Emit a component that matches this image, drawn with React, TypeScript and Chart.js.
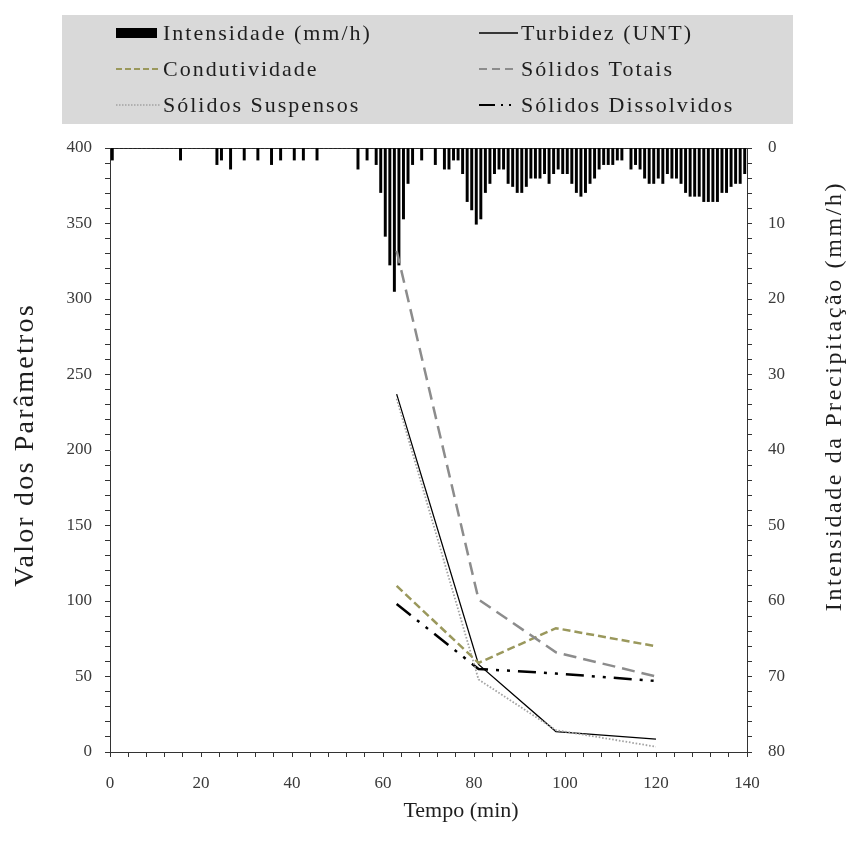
import React, { useEffect, useRef } from 'react';
import { Chart, registerables } from 'chart.js';

Chart.register(...registerables);

// ---------- DATA ----------
// Rain intensity (mm/h) per 1-minute interval, interval i spans [i, i+1] min
const rainfall: number[] = [
  1.6, 0, 0, 0, 0, 0, 0, 0, 0, 0,
  0, 0, 0, 0, 0, 1.6, 0, 0, 0, 0,
  0, 0, 0, 2.2, 1.6, 0, 2.8, 0, 0, 1.6,
  0, 0, 1.6, 0, 0, 2.2, 0, 1.6, 0, 0,
  1.6, 0, 1.6, 0, 0, 1.6, 0, 0, 0, 0,
  0, 0, 0, 0, 2.8, 0, 1.6, 0, 2.2, 5.9,
  11.7, 15.5, 19.0, 15.5, 9.4, 4.7, 2.2, 0, 1.6, 0,
  0, 2.2, 0, 2.8, 2.8, 1.6, 1.6, 3.4, 7.1, 8.2,
  10.1, 9.4, 5.9, 4.7, 3.4, 2.8, 2.8, 4.7, 5.1, 5.9,
  5.9, 5.1, 4.0, 4.0, 4.0, 3.4, 4.7, 3.4, 2.8, 3.4,
  3.4, 4.7, 5.9, 6.4, 5.9, 4.7, 4.0, 2.8, 2.2, 2.2,
  2.2, 1.6, 1.6, 0, 2.8, 2.2, 2.8, 4.0, 4.7, 4.7,
  4.0, 4.7, 3.4, 4.0, 4.0, 4.7, 5.9, 6.4, 6.4, 6.4,
  7.1, 7.1, 7.1, 7.1, 5.9, 5.9, 5.1, 4.7, 4.7, 3.4,
];
const rainMinutes: number[] = rainfall.map((_, i) => i + 0.5);

// Water quality samples
const sampleTimes: number[] = [63, 81, 98, 120];
const turbidez: number[] = [237, 58, 13.5, 8.5];
const condutividade: number[] = [110, 59, 82, 70];
const solidosTotais: number[] = [332, 101, 66, 50];
const solidosSuspensos: number[] = [234, 48, 14.5, 3.5];
const solidosDissolvidos: number[] = [98, 55, 52, 47];

// Tick labels
const xTickLabels: number[] = [0, 20, 40, 60, 80, 100, 120, 140];
const leftTickLabels: number[] = [0, 50, 100, 150, 200, 250, 300, 350, 400];
const rightTickLabels: number[] = [0, 10, 20, 30, 40, 50, 60, 70, 80];

// Texts
const legendLabels = {
  rain: 'Intensidade (mm/h)',
  turb: 'Turbidez (UNT)',
  cond: 'Condutividade',
  tot: 'Sólidos Totais',
  susp: 'Sólidos Suspensos',
  diss: 'Sólidos Dissolvidos',
};
const xTitle = 'Tempo (min)';
const yTitle = 'Valor dos Parâmetros';
const y2Title = 'Intensidade da Precipitação (mm/h)';

// ---------- STYLE ----------
const FONT = '"Liberation Serif", "Times New Roman", serif';
const AXIS = '#333333';
const TICK_TEXT = '#3a3a3a';
const TEXT = '#1e1e1e';
const OLIVE = '#9a985c';
const GRAY_DASH = '#8c8c8c';
const GRAY_DOT = '#a3a3a3';

const DASH_COND = [8, 4];
const DASH_TOT = [13, 7];
const DASH_SUSP = [1.6, 1.8];
const DASH_DISS = [18, 8, 3, 8, 3, 8];

function zeroPad(s: any) {
  s.paddingTop = 0;
  s.paddingBottom = 0;
  s.paddingLeft = 0;
  s.paddingRight = 0;
}

function drawSpaced(
  ctx: CanvasRenderingContext2D,
  text: string,
  x: number,
  y: number,
  size: number,
  spacing: number,
  align: CanvasTextAlign,
  rotate = false
) {
  ctx.save();
  ctx.font = `${size}px ${FONT}`;
  (ctx as any).letterSpacing = `${spacing}px`;
  ctx.fillStyle = TEXT;
  ctx.textBaseline = 'alphabetic';
  ctx.textAlign = align;
  ctx.translate(x, y);
  if (rotate) ctx.rotate(-Math.PI / 2);
  ctx.fillText(text, 0, 0);
  ctx.restore();
}

function line(ctx: CanvasRenderingContext2D, x1: number, x2: number, y: number, color: string, width: number, dash: number[]) {
  ctx.save();
  ctx.strokeStyle = color;
  ctx.lineWidth = width;
  ctx.setLineDash(dash);
  ctx.beginPath();
  ctx.moveTo(x1, y);
  ctx.lineTo(x2, y);
  ctx.stroke();
  ctx.restore();
}

const textPlugin = {
  id: 'customText',
  afterDraw(chart: any) {
    const ctx: CanvasRenderingContext2D = chart.ctx;
    // legend box
    ctx.save();
    ctx.fillStyle = '#d9d9d9';
    ctx.fillRect(62, 15, 731, 109);
    ctx.restore();

    const rows = [33, 69, 105];
    const c1s = 116, c1e = 160, c1t = 163;
    const c2s = 479, c2e = 518, c2t = 521;
    const fs = 22, ls = 2, base = 7;

    // row 1
    ctx.save();
    ctx.fillStyle = '#000';
    ctx.fillRect(c1s, rows[0] - 5, 41, 10);
    ctx.restore();
    drawSpaced(ctx, legendLabels.rain, c1t, rows[0] + base, fs, ls, 'left');
    line(ctx, c2s, c2e, rows[0], '#000', 1.3, []);
    drawSpaced(ctx, legendLabels.turb, c2t, rows[0] + base, fs, ls, 'left');
    // row 2
    line(ctx, c1s, c1e, rows[1], OLIVE, 1.8, [6, 3]);
    drawSpaced(ctx, legendLabels.cond, c1t, rows[1] + base, fs, ls, 'left');
    line(ctx, c2s, c2e, rows[1], GRAY_DASH, 1.8, [8, 5]);
    drawSpaced(ctx, legendLabels.tot, c2t, rows[1] + base, fs, ls, 'left');
    // row 3
    line(ctx, c1s, c1e, rows[2], GRAY_DOT, 1.5, [1.5, 1.5]);
    drawSpaced(ctx, legendLabels.susp, c1t, rows[2] + base, fs, ls, 'left');
    line(ctx, c2s, c2e, rows[2], '#000', 2.2, [16, 6, 2, 6, 2, 8]);
    drawSpaced(ctx, legendLabels.diss, c2t, rows[2] + base, fs, ls, 'left');

    // axis titles
    drawSpaced(ctx, yTitle, 33, 445, 28, 2.2, 'center', true);
    drawSpaced(ctx, y2Title, 841, 396, 24, 2.6, 'center', true);
    drawSpaced(ctx, xTitle, 461, 817, 22, 0, 'center');
  },
};

const tickFont = { family: FONT, size: 17 };

export default function App() {
  const ref = useRef<HTMLCanvasElement | null>(null);

  useEffect(() => {
    document.body.style.margin = '0';
    const canvas = ref.current;
    if (!canvas) return;

    const lineDs = (label: string, values: number[], color: string, width: number, dash: number[]) => ({
      type: 'line' as const,
      label,
      data: sampleTimes.map((x, i) => ({ x, y: values[i] })),
      borderColor: color,
      backgroundColor: color,
      borderWidth: width,
      borderDash: dash,
      pointRadius: 0,
      tension: 0,
      fill: false,
      xAxisID: 'x',
      yAxisID: 'y',
      order: 1,
    });

    const chart = new Chart(canvas, {
      type: 'bar',
      data: {
        datasets: [
          lineDs(legendLabels.tot, solidosTotais, GRAY_DASH, 2.5, DASH_TOT),
          lineDs(legendLabels.cond, condutividade, OLIVE, 2.5, DASH_COND),
          lineDs(legendLabels.susp, solidosSuspensos, GRAY_DOT, 1.8, DASH_SUSP),
          lineDs(legendLabels.diss, solidosDissolvidos, '#000', 2.5, DASH_DISS),
          lineDs(legendLabels.turb, turbidez, '#000', 1.3, []),
          {
            type: 'bar' as const,
            label: legendLabels.rain,
            data: rainMinutes.map((x, i) => ({ x, y: rainfall[i] })),
            backgroundColor: '#000',
            borderWidth: 0,
            barThickness: 2.3,
            xAxisID: 'x',
            yAxisID: 'y2',
            order: 10,
          },
        ] as any,
      },
      options: {
        animation: false,
        responsive: false,
        layout: { padding: { top: 148, left: 0, right: 0, bottom: 0 } },
        plugins: { legend: { display: false }, tooltip: { enabled: false } },
        scales: {
          x: {
            type: 'linear',
            position: 'bottom',
            min: 0,
            max: 140,
            offset: false,
            ticks: {
              stepSize: 4,
              autoSkip: false,
              maxRotation: 0,
              minRotation: 0,
              padding: 16,
              color: TICK_TEXT,
              font: tickFont,
              callback: (v: any) => (xTickLabels.includes(Number(v)) ? String(v) : ''),
            },
            grid: { drawOnChartArea: false, drawTicks: true, tickLength: 5, color: AXIS, offset: false },
            border: { display: true, color: AXIS, width: 1 },
            afterFit: (s: any) => {
              s.height = 89;
              zeroPad(s);
            },
          },
          x2: {
            type: 'linear',
            position: 'top',
            min: 0,
            max: 140,
            offset: false,
            ticks: { display: false },
            grid: { drawOnChartArea: false, drawTicks: false },
            border: { display: true, color: AXIS, width: 1 },
            afterFit: (s: any) => {
              s.height = 0;
              zeroPad(s);
            },
          },
          y: {
            type: 'linear',
            position: 'left',
            min: 0,
            max: 400,
            ticks: {
              stepSize: 10,
              autoSkip: false,
              padding: 13,
              color: TICK_TEXT,
              font: tickFont,
              callback: (v: any) => (leftTickLabels.includes(Number(v)) ? String(v) : ''),
            },
            grid: { drawOnChartArea: false, drawTicks: true, tickLength: 5, color: AXIS },
            border: { display: true, color: AXIS, width: 1 },
            afterFit: (s: any) => {
              s.width = 110;
              zeroPad(s);
            },
          },
          y2: {
            type: 'linear',
            position: 'right',
            min: 0,
            max: 80,
            reverse: true,
            ticks: {
              stepSize: 2,
              autoSkip: false,
              padding: 16,
              color: TICK_TEXT,
              font: tickFont,
              callback: (v: any) => (rightTickLabels.includes(Number(v)) ? String(v) : ''),
            },
            grid: { drawOnChartArea: false, drawTicks: true, tickLength: 5, color: AXIS },
            border: { display: true, color: AXIS, width: 1 },
            afterFit: (s: any) => {
              s.width = 108;
              zeroPad(s);
            },
          },
        },
      } as any,
      plugins: [textPlugin],
    });

    return () => chart.destroy();
  }, []);

  return (
    <div style={{ width: 855, height: 841, background: '#fff' }}>
      <canvas ref={ref} width={855} height={841} style={{ display: 'block', width: 855, height: 841 }} />
    </div>
  );
}
